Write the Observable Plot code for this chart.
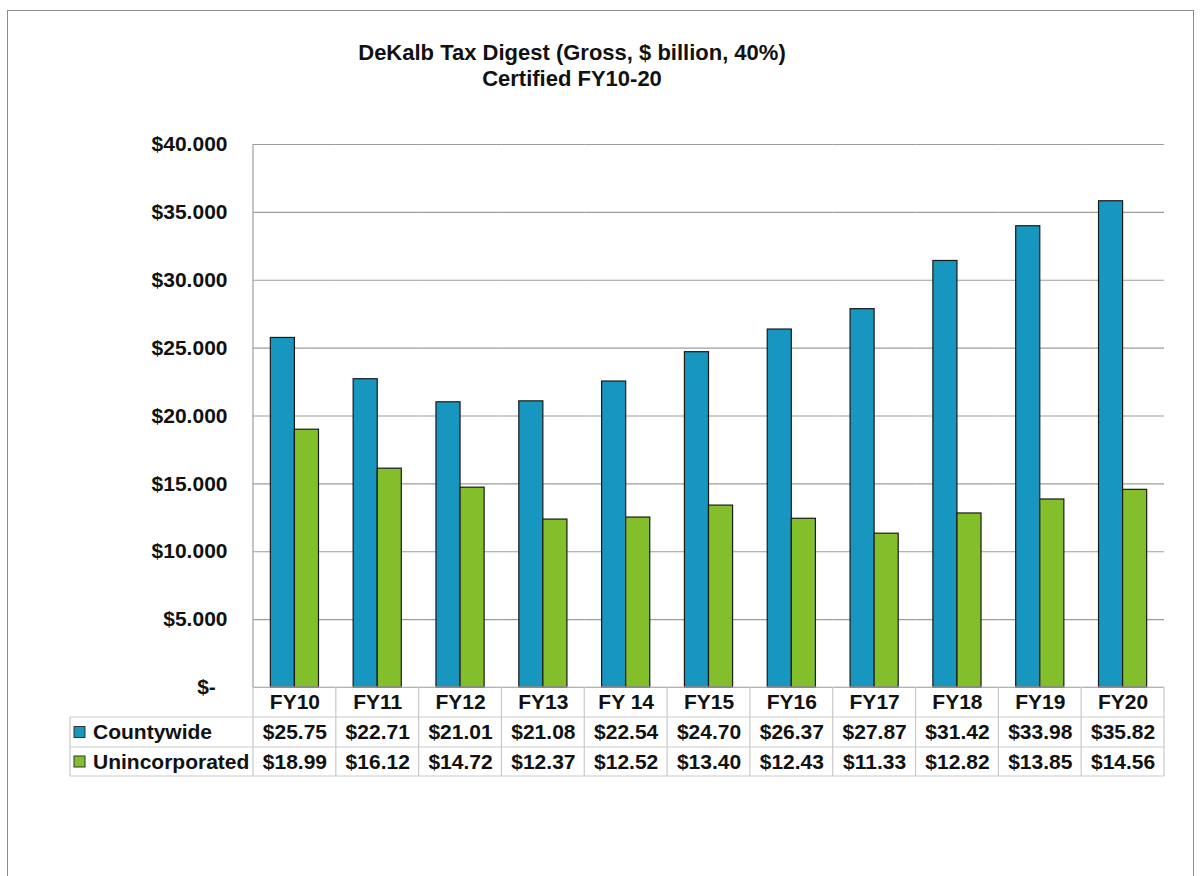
<!DOCTYPE html>
<html><head><meta charset="utf-8">
<script src="https://cdn.jsdelivr.net/npm/d3@7"></script>
<script src="https://cdn.jsdelivr.net/npm/@observablehq/plot@0.6"></script>
<style>
body{margin:0;background:#fff;font-family:Arial,"Liberation Sans",sans-serif;}
#wrap{position:relative;width:1200px;height:876px;overflow:hidden;background:#fff;}
#border{position:absolute;left:7px;top:10px;width:1187px;height:900px;border:1.5px solid #8c8c8c;box-sizing:border-box;}
#title{position:absolute;left:-28px;top:40px;width:1200px;text-align:center;font-weight:bold;font-size:22px;line-height:26px;color:#111;}
#chart{position:absolute;left:0;top:0;}
</style>
</head><body>
<div id="wrap">
  <div id="border"></div>
  <div id="chart"></div>
  <div id="title">DeKalb Tax Digest (Gross, $ billion, 40%)<br>Certified FY10-20</div>
</div>
<script>
const categories = ["FY10","FY11","FY12","FY13","FY 14","FY15","FY16","FY17","FY18","FY19","FY20"];
const countywide = [25.75,22.71,21.01,21.08,22.54,24.70,26.37,27.87,31.42,33.98,35.82];
const unincorporated = [18.99,16.12,14.72,12.37,12.52,13.40,12.43,11.33,12.82,13.85,14.56];
const seriesNames = ["Countywide","Unincorporated"];
const seriesColors = ["#1796bf","#82bf2a"];
const yTicks = [0,5,10,15,20,25,30,35,40];

const seriesValues = [countywide, unincorporated];
const rows = categories.flatMap((c,i) => seriesNames.map((s,k) => ({cat:c, series:s, value:seriesValues[k][i]})));

const fmtTick = d => d === 0 ? "$-\u00a0\u00a0" : "$" + d.toFixed(3);
const fmtVal = v => "$" + v.toFixed(2);

const FONT = "Arial, 'Liberation Sans', sans-serif";
const txt = {frameAnchor: "bottom", lineAnchor: "middle", fontSize: 21, fontWeight: "bold", fill: "#111"};
const chart = Plot.plot({
  width: 1200, height: 876,
  marginLeft: 253, marginRight: 36, marginTop: 144, marginBottom: 189,
  style: {fontFamily: FONT, fontWeight: "bold", fontSize: "21px", background: "transparent", overflow: "visible", color: "#111"},
  fx: {domain: categories, padding: 0, round: false, axis: null, label: null},
  x: {domain: seriesNames, paddingInner: 0, paddingOuter: 0.72, round: false, axis: null},
  y: {domain: [0, 40], ticks: yTicks, tickFormat: fmtTick, tickSize: 0, tickPadding: 26, label: null},
  color: {domain: seriesNames, range: seriesColors},
  marks: [
    Plot.ruleY(yTicks, {stroke: "#9c9c9c", strokeWidth: 1.2}),
    Plot.barY(rows, {fx: "cat", x: "series", y: "value", fill: "series", stroke: "#1a1a1a", strokeWidth: 1.2}),
    Plot.text(categories, {fx: d => d, text: d => d, dy: 15, ...txt}),
    Plot.text(categories, {fx: d => d, text: (d, i) => fmtVal(countywide[i]), dy: 45, ...txt}),
    Plot.text(categories, {fx: d => d, text: (d, i) => fmtVal(unincorporated[i]), dy: 74.5, ...txt})
  ]
});
document.getElementById("chart").appendChild(chart);

// table lines and legend column drawn with the plot's own scales
const fx = chart.scale("fx");
const yS = chart.scale("y");
const svg = d3.select(chart);
const y0 = yS.apply(0), yTop = yS.apply(40);
const left = fx.range ? fx.range[0] : 253;
const right = fx.range ? fx.range[1] : 1164;
const legLeft = 70;
const rowY = [y0, y0 + 30, y0 + 60, y0 + 89];
const g = svg.append("g").attr("stroke", "#c9c9c9").attr("stroke-width", 1.2).attr("fill", "none");
g.append("line").attr("x1", left).attr("x2", right).attr("y1", rowY[0]).attr("y2", rowY[0]);
[1,2,3].forEach(k => g.append("line").attr("x1", legLeft).attr("x2", right).attr("y1", rowY[k]).attr("y2", rowY[k]));
const edges = categories.map(c => fx.apply(c)).concat([right]);
edges.forEach(xe => g.append("line").attr("x1", xe).attr("x2", xe).attr("y1", rowY[0]).attr("y2", rowY[3]));
g.append("line").attr("x1", legLeft).attr("x2", legLeft).attr("y1", rowY[1]).attr("y2", rowY[3]);
svg.append("line").attr("x1", left).attr("x2", left).attr("y1", yTop).attr("y2", y0)
  .attr("stroke", "#9c9c9c").attr("stroke-width", 1.2);
seriesNames.forEach((s, k) => {
  const cy = (rowY[k+1] + rowY[k+2]) / 2;
  svg.append("rect").attr("x", 74).attr("y", cy - 5.5).attr("width", 11).attr("height", 11)
    .attr("fill", seriesColors[k]).attr("stroke", "#333").attr("stroke-width", 1);
  svg.append("text").attr("x", 93).attr("y", cy).attr("dy", "0.35em").attr("text-anchor", "start")
    .attr("font-family", FONT).attr("font-weight", "bold").attr("font-size", 21).attr("fill", "#111")
    .text(s);
});
</script>
</body></html>
